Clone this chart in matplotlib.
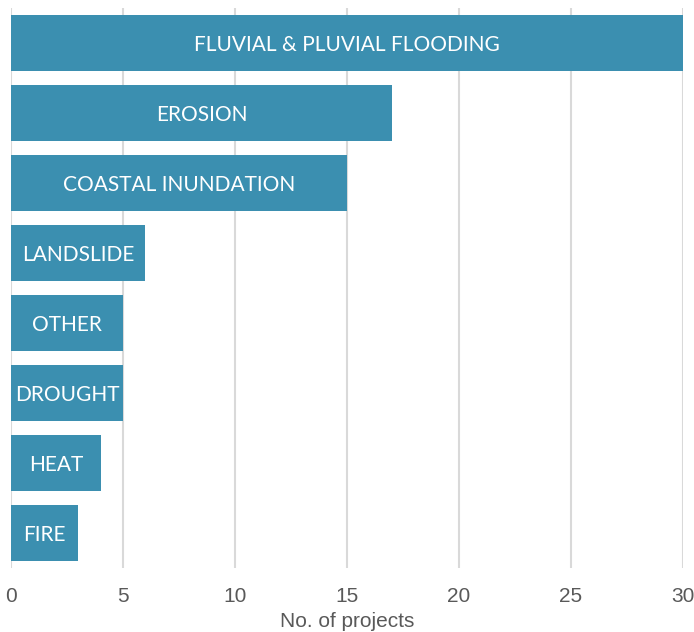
import matplotlib
matplotlib.use("Agg")
import matplotlib.pyplot as plt
from matplotlib import font_manager

categories = ["FLUVIAL & PLUVIAL FLOODING", "EROSION", "COASTAL INUNDATION",
              "LANDSLIDE", "OTHER", "DROUGHT", "HEAT", "FIRE"]
values = [30, 17, 15, 6, 5, 5, 4, 3]
xticks = [0, 5, 10, 15, 20, 25, 30]
xlabel = "No. of projects"

names = {f.name for f in font_manager.fontManager.ttflist}
narrow = "Liberation Sans Narrow" if "Liberation Sans Narrow" in names else "Liberation Sans"

fig = plt.figure(figsize=(6.94, 6.32), dpi=100)
ax = fig.add_axes([11/694, (632-568)/632, 672/694, 560/632])

bar_color = "#3B8FB0"
ypos = list(range(len(categories)))
ax.barh(ypos, values, height=0.79, color=bar_color, zorder=3)
for y, v, c in zip(ypos, values, categories):
    ax.text(v / 2, y + 0.03, c, ha="center", va="center", color="white",
            fontsize=15, family=["Lato", "DejaVu Sans"], fontweight="normal", zorder=4)

ax.set_ylim(len(categories) - 0.5, -0.5)
ax.set_xlim(0, 30)
ax.set_xticks(xticks)
ax.set_xticklabels([str(t) for t in xticks], fontsize=15, family=[narrow, "DejaVu Sans"], color="#595959")
ax.set_yticks([])
ax.tick_params(axis="x", length=0, pad=14)
ax.grid(axis="x", color="#D9D9D9", linewidth=1.5, zorder=0)
for s in ax.spines.values():
    s.set_visible(False)
ax.set_xlabel(xlabel, fontsize=15, family=[narrow, "DejaVu Sans"], color="#595959", labelpad=4)

fig.savefig("out.png", dpi=100)
